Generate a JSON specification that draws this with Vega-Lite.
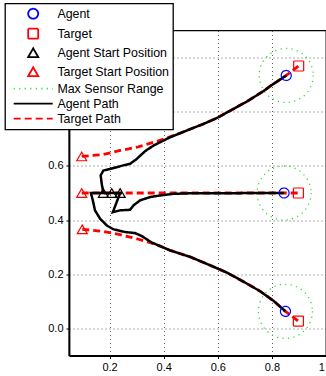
{
  "$schema": "https://vega.github.io/schema/vega-lite/v6.json",
  "width": 257,
  "height": 325,
  "autosize": {"type": "none"},
  "padding": {"left": 69, "top": 30.5, "right": 0, "bottom": 20.5},
  "background": "white",
  "config": {
    "view": {"stroke": "black", "strokeWidth": 1.3},
    "font": "Liberation Sans",
    "axis": {
      "domainColor": "black", "domainWidth": 1.8,
      "tickColor": "black", "tickSize": 3,
      "labelFont": "Liberation Sans", "labelFontSize": 11, "labelColor": "black",
      "labelPadding": 3,
      "grid": true, "gridColor": "#333333", "gridDash": [1, 3], "gridWidth": 0.8, "gridOpacity": 1,
      "title": null, "zindex": 0, "labelFlush": false, "labelOverlap": false
    },
    "legend": {
      "orient": "none", "legendX": -64, "legendY": -27,
      "padding": 4, "symbolOffset": 18, "labelOffset": 18,
      "labelFont": "Liberation Sans", "labelFontSize": 12.4, "labelColor": "black",
      "rowPadding": 2, "symbolSize": 100, "symbolStrokeWidth": 1.8,
      "fillColor": "white", "strokeColor": "black", "strokeWidth": 1.3,
      "title": null, "zindex": 5, "labelLimit": 300
    }
  },
  "datasets": {
    "paths": [
      {"series": "Target Path", "id": "t1", "o": 0, "x": 0.097, "y": 0.635},
      {"series": "Target Path", "id": "t1", "o": 1, "x": 0.177, "y": 0.642},
      {"series": "Target Path", "id": "t1", "o": 2, "x": 0.239, "y": 0.657},
      {"series": "Target Path", "id": "t1", "o": 3, "x": 0.301, "y": 0.669},
      {"series": "Target Path", "id": "t1", "o": 4, "x": 0.362, "y": 0.687},
      {"series": "Target Path", "id": "t1", "o": 5, "x": 0.412, "y": 0.703},
      {"series": "Target Path", "id": "t1", "o": 6, "x": 0.486, "y": 0.731},
      {"series": "Target Path", "id": "t1", "o": 7, "x": 0.547, "y": 0.755},
      {"series": "Target Path", "id": "t1", "o": 8, "x": 0.597, "y": 0.777},
      {"series": "Target Path", "id": "t1", "o": 9, "x": 0.646, "y": 0.804},
      {"series": "Target Path", "id": "t1", "o": 10, "x": 0.708, "y": 0.838},
      {"series": "Target Path", "id": "t1", "o": 11, "x": 0.770, "y": 0.877},
      {"series": "Target Path", "id": "t1", "o": 12, "x": 0.794, "y": 0.895},
      {"series": "Target Path", "id": "t1", "o": 13, "x": 0.853, "y": 0.934},
      {"series": "Target Path", "id": "t1", "o": 14, "x": 0.899, "y": 0.969},
      {"series": "Target Path", "id": "t2", "o": 0, "x": 0.097, "y": 0.5},
      {"series": "Target Path", "id": "t2", "o": 1, "x": 0.898, "y": 0.5},
      {"series": "Target Path", "id": "t3", "o": 0, "x": 0.099, "y": 0.366},
      {"series": "Target Path", "id": "t3", "o": 1, "x": 0.177, "y": 0.358},
      {"series": "Target Path", "id": "t3", "o": 2, "x": 0.239, "y": 0.346},
      {"series": "Target Path", "id": "t3", "o": 3, "x": 0.301, "y": 0.331},
      {"series": "Target Path", "id": "t3", "o": 4, "x": 0.362, "y": 0.313},
      {"series": "Target Path", "id": "t3", "o": 5, "x": 0.387, "y": 0.304},
      {"series": "Target Path", "id": "t3", "o": 6, "x": 0.424, "y": 0.288},
      {"series": "Target Path", "id": "t3", "o": 7, "x": 0.498, "y": 0.264},
      {"series": "Target Path", "id": "t3", "o": 8, "x": 0.572, "y": 0.233},
      {"series": "Target Path", "id": "t3", "o": 9, "x": 0.634, "y": 0.206},
      {"series": "Target Path", "id": "t3", "o": 10, "x": 0.696, "y": 0.172},
      {"series": "Target Path", "id": "t3", "o": 11, "x": 0.757, "y": 0.137},
      {"series": "Target Path", "id": "t3", "o": 12, "x": 0.807, "y": 0.101},
      {"series": "Target Path", "id": "t3", "o": 13, "x": 0.85, "y": 0.063},
      {"series": "Target Path", "id": "t3", "o": 14, "x": 0.898, "y": 0.027},

      {"series": "Agent Path", "id": "a1", "o": 0, "x": 0.177, "y": 0.5},
      {"series": "Agent Path", "id": "a1", "o": 1, "x": 0.171, "y": 0.534},
      {"series": "Agent Path", "id": "a1", "o": 2, "x": 0.167, "y": 0.565},
      {"series": "Agent Path", "id": "a1", "o": 3, "x": 0.177, "y": 0.583},
      {"series": "Agent Path", "id": "a1", "o": 4, "x": 0.202, "y": 0.589},
      {"series": "Agent Path", "id": "a1", "o": 5, "x": 0.251, "y": 0.602},
      {"series": "Agent Path", "id": "a1", "o": 6, "x": 0.276, "y": 0.608},
      {"series": "Agent Path", "id": "a1", "o": 7, "x": 0.301, "y": 0.626},
      {"series": "Agent Path", "id": "a1", "o": 8, "x": 0.313, "y": 0.638},
      {"series": "Agent Path", "id": "a1", "o": 9, "x": 0.335, "y": 0.657},
      {"series": "Agent Path", "id": "a1", "o": 10, "x": 0.362, "y": 0.675},
      {"series": "Agent Path", "id": "a1", "o": 11, "x": 0.424, "y": 0.706},
      {"series": "Agent Path", "id": "a1", "o": 12, "x": 0.486, "y": 0.731},
      {"series": "Agent Path", "id": "a1", "o": 13, "x": 0.547, "y": 0.755},
      {"series": "Agent Path", "id": "a1", "o": 14, "x": 0.597, "y": 0.777},
      {"series": "Agent Path", "id": "a1", "o": 15, "x": 0.646, "y": 0.804},
      {"series": "Agent Path", "id": "a1", "o": 16, "x": 0.708, "y": 0.838},
      {"series": "Agent Path", "id": "a1", "o": 17, "x": 0.770, "y": 0.877},
      {"series": "Agent Path", "id": "a1", "o": 18, "x": 0.794, "y": 0.895},
      {"series": "Agent Path", "id": "a1", "o": 19, "x": 0.853, "y": 0.934},
      {"series": "Agent Path", "id": "a2", "o": 0, "x": 0.239, "y": 0.5},
      {"series": "Agent Path", "id": "a2", "o": 1, "x": 0.212, "y": 0.429},
      {"series": "Agent Path", "id": "a2", "o": 2, "x": 0.239, "y": 0.436},
      {"series": "Agent Path", "id": "a2", "o": 3, "x": 0.276, "y": 0.438},
      {"series": "Agent Path", "id": "a2", "o": 4, "x": 0.288, "y": 0.454},
      {"series": "Agent Path", "id": "a2", "o": 5, "x": 0.313, "y": 0.473},
      {"series": "Agent Path", "id": "a2", "o": 6, "x": 0.35, "y": 0.485},
      {"series": "Agent Path", "id": "a2", "o": 7, "x": 0.387, "y": 0.491},
      {"series": "Agent Path", "id": "a2", "o": 8, "x": 0.436, "y": 0.497},
      {"series": "Agent Path", "id": "a2", "o": 9, "x": 0.5, "y": 0.499},
      {"series": "Agent Path", "id": "a2", "o": 10, "x": 0.845, "y": 0.5},
      {"series": "Agent Path", "id": "a3", "o": 0, "x": 0.245, "y": 0.5},
      {"series": "Agent Path", "id": "a3", "o": 1, "x": 0.131, "y": 0.5},
      {"series": "Agent Path", "id": "a3", "o": 2, "x": 0.138, "y": 0.473},
      {"series": "Agent Path", "id": "a3", "o": 3, "x": 0.146, "y": 0.436},
      {"series": "Agent Path", "id": "a3", "o": 4, "x": 0.165, "y": 0.405},
      {"series": "Agent Path", "id": "a3", "o": 5, "x": 0.19, "y": 0.38},
      {"series": "Agent Path", "id": "a3", "o": 6, "x": 0.214, "y": 0.366},
      {"series": "Agent Path", "id": "a3", "o": 7, "x": 0.257, "y": 0.356},
      {"series": "Agent Path", "id": "a3", "o": 8, "x": 0.294, "y": 0.352},
      {"series": "Agent Path", "id": "a3", "o": 9, "x": 0.319, "y": 0.341},
      {"series": "Agent Path", "id": "a3", "o": 10, "x": 0.356, "y": 0.317},
      {"series": "Agent Path", "id": "a3", "o": 11, "x": 0.424, "y": 0.288},
      {"series": "Agent Path", "id": "a3", "o": 12, "x": 0.498, "y": 0.264},
      {"series": "Agent Path", "id": "a3", "o": 13, "x": 0.572, "y": 0.233},
      {"series": "Agent Path", "id": "a3", "o": 14, "x": 0.634, "y": 0.206},
      {"series": "Agent Path", "id": "a3", "o": 15, "x": 0.696, "y": 0.172},
      {"series": "Agent Path", "id": "a3", "o": 16, "x": 0.757, "y": 0.137},
      {"series": "Agent Path", "id": "a3", "o": 17, "x": 0.807, "y": 0.101},
      {"series": "Agent Path", "id": "a3", "o": 18, "x": 0.85, "y": 0.063}
    ],
    "sensors": [
      {"series": "Max Sensor Range", "x": 0.853, "y": 0.934},
      {"series": "Max Sensor Range", "x": 0.845, "y": 0.5},
      {"series": "Max Sensor Range", "x": 0.85, "y": 0.063}
    ],
    "points": [
      {"series": "Agent", "x": 0.853, "y": 0.934},
      {"series": "Agent", "x": 0.845, "y": 0.5},
      {"series": "Agent", "x": 0.85, "y": 0.063},
      {"series": "Target", "x": 0.899, "y": 0.969},
      {"series": "Target", "x": 0.898, "y": 0.5},
      {"series": "Target", "x": 0.898, "y": 0.027},
      {"series": "Agent Start Position", "x": 0.177, "y": 0.5},
      {"series": "Agent Start Position", "x": 0.208, "y": 0.5},
      {"series": "Agent Start Position", "x": 0.239, "y": 0.5},
      {"series": "Target Start Position", "x": 0.097, "y": 0.635},
      {"series": "Target Start Position", "x": 0.097, "y": 0.5},
      {"series": "Target Start Position", "x": 0.099, "y": 0.366}
    ]
  },
  "encoding": {
    "x": {"field": "x", "type": "quantitative",
          "scale": {"domain": [0.05, 1], "nice": false, "zero": false},
          "axis": {"values": [0.2, 0.4, 0.6, 0.8, 1]}},
    "y": {"field": "y", "type": "quantitative",
          "scale": {"domain": [-0.1, 1.1], "nice": false, "zero": false},
          "axis": {"values": [0, 0.2, 0.4, 0.6, 0.8, 1]}},
    "color": {"field": "series", "type": "nominal",
      "scale": {"domain": ["Agent", "Target", "Agent Start Position", "Target Start Position", "Max Sensor Range", "Agent Path", "Target Path"],
                "range": ["#0000ff", "#ff0000", "#000000", "#ff0000", "#33dd33", "#000000", "#ff0000"]}},
    "strokeDash": {"field": "series", "type": "nominal",
      "scale": {"domain": ["Agent", "Target", "Agent Start Position", "Target Start Position", "Max Sensor Range", "Agent Path", "Target Path"],
                "range": [[1, 0], [1, 0], [1, 0], [1, 0], [1.2, 4.3], [1, 0], [7, 4]]}}
  },
  "layer": [
    {
      "data": {"name": "sensors"},
      "mark": {"type": "point", "shape": "circle", "filled": false, "size": 2916, "opacity": 1, "strokeWidth": 1.3}
    },
    {
      "data": {"name": "paths"},
      "transform": [{"filter": "datum.series == 'Target Path'"}],
      "mark": {"type": "line", "strokeWidth": 2.8, "strokeCap": "butt"},
      "encoding": {"detail": {"field": "id"}, "order": {"field": "o", "type": "quantitative"}}
    },
    {
      "data": {"name": "paths"},
      "transform": [{"filter": "datum.series == 'Agent Path'"}],
      "mark": {"type": "line", "strokeWidth": 2.5},
      "encoding": {"detail": {"field": "id"}, "order": {"field": "o", "type": "quantitative"}}
    },
    {
      "data": {"name": "points"},
      "mark": {"type": "point", "filled": false, "size": 100, "opacity": 1, "strokeWidth": 1.2},
      "encoding": {
        "shape": {"field": "series", "type": "nominal",
          "scale": {"domain": ["Agent", "Target", "Agent Start Position", "Target Start Position", "Max Sensor Range", "Agent Path", "Target Path"],
                    "range": ["circle", "square", "triangle-up", "triangle-up", "M-3.9,0H3.9", "M-3.9,0H3.9", "M-3.9,0H3.9"]}}
      }
    }
  ]
}
